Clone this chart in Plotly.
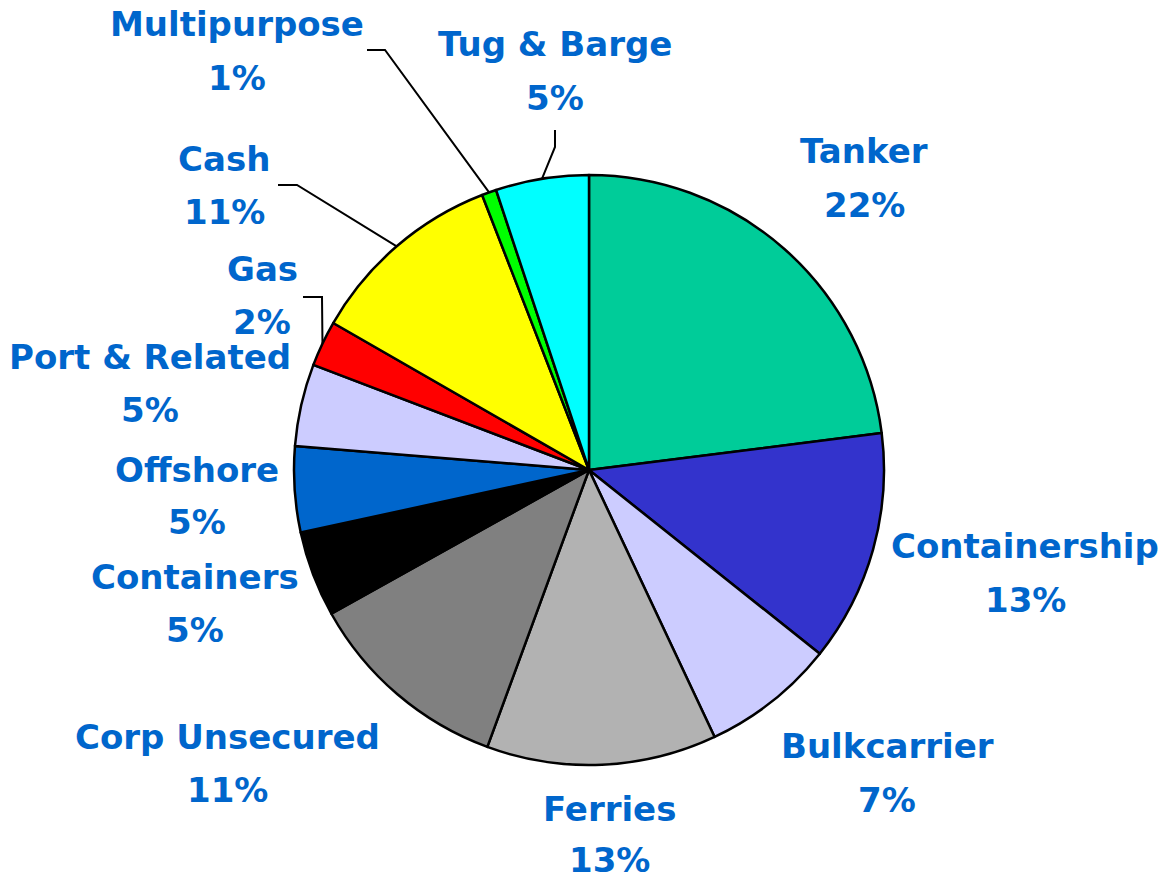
import math
import plotly.graph_objects as go

W, H = 1163, 880

# ---- data (clockwise from 12 o'clock) ----
categories = ["Tanker", "Containership", "Bulkcarrier", "Ferries", "Corp Unsecured",
              "Containers", "Offshore", "Port & Related", "Gas", "Cash",
              "Multipurpose", "Tug & Barge"]
shares = [23.0, 12.7, 7.3, 12.6, 11.3, 4.7, 4.7, 4.5, 2.5, 10.8, 0.8, 5.1]
pct_labels = ["22%", "13%", "7%", "13%", "11%", "5%", "5%", "5%", "2%", "11%", "1%", "5%"]

# ---- styles / layout ----
colors = ["#00CC99", "#3333CC", "#CCCCFF", "#B2B2B2", "#808080", "#000000",
          "#0066CC", "#CCCCFF", "#FF0000", "#FFFF00", "#00FF00", "#00FFFF"]
text_color = "#0066CC"
font_family = "DejaVu Sans"
font_size = 34

cx, cy, R = 589, 470, 295  # pie centre / radius in pixels

# label centre positions (pixels): x, name line y, percent line y
label_pos = {
    "Tanker": (864, 151, 205),
    "Containership": (1025, 546, 600),
    "Bulkcarrier": (887, 746, 800),
    "Ferries": (610, 809, 860),
    "Corp Unsecured": (227, 737, 790),
    "Containers": (195, 577, 630),
    "Offshore": (197, 470, 522),
    "Port & Related": (150, 357, 410),
    "Gas": (262, 269, 322),
    "Cash": (224, 159, 212),
    "Multipurpose": (237, 24, 78),
    "Tug & Barge": (555, 44, 98),
}
# leader lines: fixed points (pixels) before reaching the slice edge
leaders = {
    "Multipurpose": [(367, 50), (385, 50)],
    "Tug & Barge": [(555, 130), (555, 147)],
    "Cash": [(278, 185), (297, 185)],
    "Gas": [(303, 297), (322, 297)],
}


def px(x):
    return x / W


def py(y):
    return 1 - y / H


fig = go.Figure(go.Pie(
    labels=categories,
    values=shares,
    sort=False,
    direction="clockwise",
    rotation=0,
    marker=dict(colors=colors, line=dict(color="black", width=2.5)),
    textinfo="none",
    hoverinfo="label+percent",
    domain=dict(x=[px(cx - R), px(cx + R)], y=[py(cy + R), py(cy - R)]),
))

annotations = []
for name, pct in zip(categories, pct_labels):
    x, y1, y2 = label_pos[name]
    for txt, yy in ((name, y1), (pct, y2)):
        annotations.append(dict(
            x=px(x), y=py(yy), xref="paper", yref="paper",
            text=f"<b>{txt}</b>", showarrow=False,
            xanchor="center", yanchor="middle",
            font=dict(family=font_family, size=font_size, color=text_color),
        ))

# leader line endpoints on the slice edge, from slice mid-angles
total = sum(shares)
cum = 0.0
mid_angle = {}
for name, v in zip(categories, shares):
    mid_angle[name] = (cum + v / 2) / total * 2 * math.pi
    cum += v

shapes = []
for name, pts in leaders.items():
    a = mid_angle[name]
    ex, ey = cx + R * math.sin(a), cy - R * math.cos(a)
    allpts = pts + [(ex, ey)]
    path = "M " + " L ".join(f"{px(x):.5f},{py(y):.5f}" for x, y in allpts)
    shapes.append(dict(type="path", path=path, xref="paper", yref="paper",
                       line=dict(color="black", width=2)))

fig.update_layout(
    width=W, height=H,
    margin=dict(l=0, r=0, t=0, b=0),
    paper_bgcolor="white", plot_bgcolor="white",
    showlegend=False,
    annotations=annotations,
    shapes=shapes,
)

fig.write_html(
    "out.html",
    config={"displayModeBar": False},
    post_script="document.body.style.margin='0';document.body.style.overflow='hidden';",
)
